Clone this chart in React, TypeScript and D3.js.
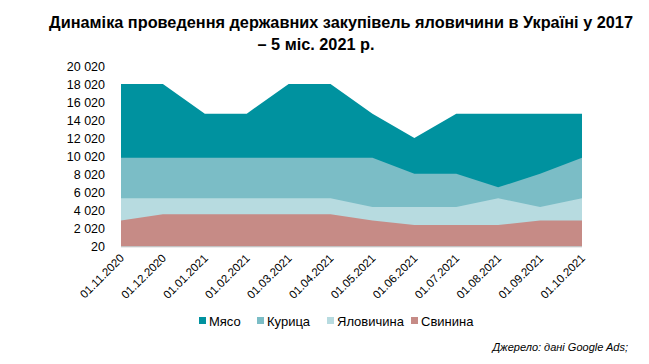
import React from "react";
import * as d3 from "d3";

const dates = [
  "01.11.2020", "01.12.2020", "01.01.2021", "01.02.2021", "01.03.2021", "01.04.2021",
  "01.05.2021", "01.06.2021", "01.07.2021", "01.08.2021", "01.09.2021", "01.10.2021",
];
const meat = [18100, 18100, 14800, 14800, 18100, 18100, 14800, 12100, 14800, 14800, 14800, 14800];
const chicken = [9900, 9900, 9900, 9900, 9900, 9900, 9900, 8100, 8100, 6600, 8100, 9900];
const beef = [5400, 5400, 5400, 5400, 5400, 5400, 4400, 4400, 4400, 5400, 4400, 5400];
const pork = [2900, 3600, 3600, 3600, 3600, 3600, 2900, 2400, 2400, 2400, 2900, 2900];
const yTicks = [20, 2020, 4020, 6020, 8020, 10020, 12020, 14020, 16020, 18020, 20020];

const series = [
  { name: "Мясо", values: meat, color: "#00929f" },
  { name: "Курица", values: chicken, color: "#7bbdc6" },
  { name: "Яловичина", values: beef, color: "#b7dbe0" },
  { name: "Свинина", values: pork, color: "#c68b86" },
];

const W = 649;
const H = 364;
const FONT = "Arial, 'Liberation Sans', sans-serif";

export default function App() {
  const x = d3.scalePoint<string>().domain(dates).range([121, 582]);
  const y = d3.scaleLinear().domain([20, 20020]).range([246.5, 66.7]);

  // areas overlap (not stacked), each drawn from the baseline
  const area = d3
    .area<number>()
    .x((_, i) => x(dates[i]) as number)
    .y0(y(20))
    .y1((d) => y(d));

  const fmt = (v: number) => d3.format(",")(v).replace(/,/g, " ");

  const legendX = [199, 257, 327, 411];

  return (
    <svg
      width={W}
      height={H}
      style={{ position: "absolute", left: 0, top: 0, background: "#fff" }}
      fontFamily={FONT}
    >
      <text x={341} y={28} textAnchor="middle" fontSize={16.3} fontWeight="bold">
        Динаміка проведення державних закупівель яловичини в Україні у 2017
      </text>
      <text x={316} y={50} textAnchor="middle" fontSize={16.3} fontWeight="bold">
        – 5 міс. 2021 р.
      </text>

      {series.map((s) => (
        <path key={s.name} d={area(s.values) || ""} fill={s.color} />
      ))}

      <line x1={121} x2={582} y1={y(20) + 0.5} y2={y(20) + 0.5} stroke="#d9d9d9" strokeWidth={1} />

      {yTicks.map((t) => (
        <text key={t} x={105} y={y(t)} dy="0.35em" textAnchor="end" fontSize={12.5} fill="#000">
          {fmt(t)}
        </text>
      ))}

      {dates.map((d) => (
        <text
          key={d}
          transform={`translate(${(x(d) as number) + 1},${256}) rotate(-45)`}
          textAnchor="end"
          dy="0.35em"
          fontSize={11.5}
          fill="#000"
        >
          {d}
        </text>
      ))}

      {series.map((s, i) => (
        <g key={s.name} transform={`translate(${legendX[i]},${321})`}>
          <rect x={0} y={-4} width={7} height={7} fill={s.color} />
          <text x={10} y={0} dy="0.35em" fontSize={13} fill="#000">
            {s.name}
          </text>
        </g>
      ))}

      <text x={628} y={351} textAnchor="end" fontSize={11} fontStyle="italic" fill="#000">
        Джерело: дані Google Ads;
      </text>
    </svg>
  );
}
